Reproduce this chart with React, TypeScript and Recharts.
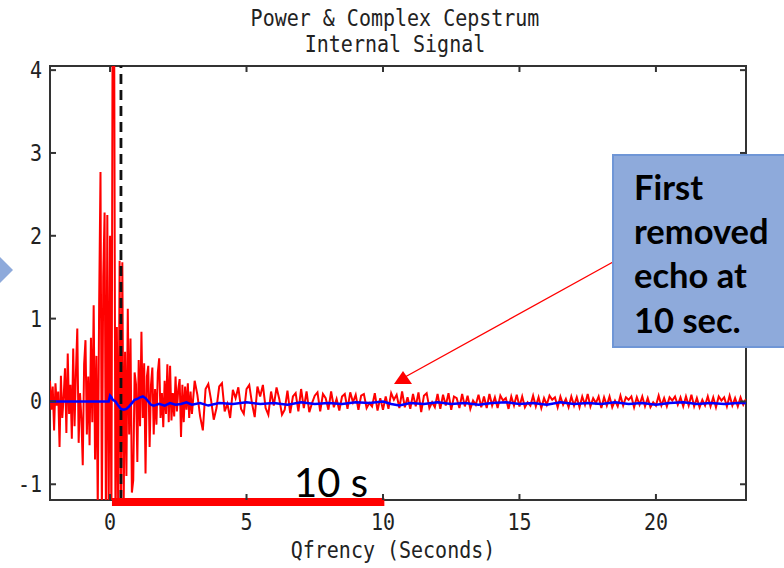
import React from 'react'
import { LineChart, Line, XAxis, YAxis, ReferenceLine, ReferenceArea } from 'recharts'

// red cepstrum, dense part: every 0.05 s from -2.2 s
const RED_EARLY_T0 = -2.2
const RED_EARLY_DT = 0.05
const RED_EARLY = [
  0.25, -0.10, 0.18, -0.35, 0.22, -0.05, 0.12, -0.55, 0.31, -0.20,
  0.05, 0.40, -0.38, 0.58, -0.15, 0.20, -0.45, 0.64, -0.30, 0.35,
  0.88, -0.50, 0.10, -0.20, -0.77, 0.45, 0.74, -0.40, 0.30, -0.53,
  0.77, -0.25, 1.16, -0.70, 0.55, -1.30, 1.16, 2.77, -1.40, 1.50,
  2.28, -1.50, 2.25, -1.35, 2.00, -1.60, 5.50, 4.60, -1.70, 0.90,
  -1.40, 1.70, -1.30, 1.68, -1.25, 0.60, -0.90, 1.12, -0.40, 0.76,
  -1.10, -0.95, 0.35, 0.21, -0.73, 0.50, -0.30, 0.84, -0.20, 0.46,
  -0.87, 0.30, 0.43, -0.55, 0.20, 0.41, -0.40, 0.15, -0.28, 0.35,
  0.52, -0.20, 0.10, -0.31, 0.25, -0.15, 0.45, -0.25, 0.43, -0.23,
  0.10, -0.18, 0.30, -0.12, 0.15, 0.27, -0.43, 0.20, -0.25, 0.18,
  -0.10, 0.22, -0.20, 0.12, -0.15,
]

// red cepstrum, tail: every 0.1 s from 3.1 s
const RED_LATE_T0 = 3.1
const RED_LATE_DT = 0.1
const RED_LATE = [
  0.25, 0.08, -0.18, -0.35, 0.15, 0.21, 0.02, -0.22, -0.08, 0.18,
  0.22, -0.12, -0.03, -0.20, 0.14, 0.04, 0.17, -0.09, -0.15, 0.15,
  0.20, -0.02, -0.19, 0.18, 0.06, 0.20, -0.08, -0.16, 0.12, -0.05,
  0.17, 0.03, -0.16, -0.10, 0.13, -0.14, 0.06, 0.10, -0.12, 0.15,
  -0.08, 0.12, -0.13, -0.02, 0.07, 0.11, -0.12, 0.09, 0.04, -0.10,
  0.12, -0.07, 0.03, -0.11, 0.06, 0.09, -0.09, 0.11, -0.01, 0.08,
  -0.10, 0.07, 0.09, -0.08, -0.02, -0.06, 0.10, -0.11, 0.04, -0.10,
  0.06, -0.09, 0.10, 0.02, 0.08, -0.08, 0.12, -0.07, 0.05, -0.09,
  0.09, -0.06, 0.11, -0.13, 0.07, 0.10, -0.08, -0.01, -0.07, 0.09,
  -0.09, 0.08, -0.05, 0.10, -0.10, 0.06, 0.04, -0.08, 0.09, -0.06,
  0.07, -0.09, 0.01, -0.04, 0.08, -0.07, 0.06, -0.08, 0.09, -0.05,
  0.05, -0.08, 0.07, 0.01, 0.04, -0.09, 0.06, -0.05, 0.08, -0.06,
  0.06, -0.07, -0.01, -0.05, 0.07, -0.06, 0.05, -0.08, 0.04, -0.04,
  0.07, 0.02, 0.05, -0.07, 0.06, -0.04, 0.03, -0.07, 0.06, -0.05,
  0.05, -0.07, 0.06, -0.04, 0.09, -0.06, 0.04, -0.02, 0.06, -0.08,
  0.05, -0.05, 0.06, -0.07, 0.01, -0.06, 0.07, -0.05, 0.05, 0.02,
  0.06, -0.07, 0.05, -0.04, 0.06, -0.06, 0.04, -0.07, -0.01, -0.05,
  0.07, -0.05, 0.04, -0.06, 0.05, 0.01, 0.06, -0.04, 0.05, -0.06,
  0.06, -0.05, 0.08, -0.06, 0.04, -0.07, 0.02, -0.05, 0.06, -0.06,
  0.05, -0.07, 0.06, 0.01, 0.05, -0.06, 0.07, -0.05, 0.04, -0.06,
  0.05, -0.04, 0.03,
]

// blue (complex cepstrum) – smoother, own sample times
const BLUE_T = [
  -2.2, -0.05, 0.0, 0.05, 0.1, 0.2, 0.3, 0.4, 0.5, 0.6, 0.7, 0.8, 0.9, 1.0,
  1.1, 1.2, 1.3, 1.4, 1.5, 1.6, 1.8, 2.0, 2.2, 2.4, 2.6, 2.8, 3.0, 3.3, 3.6,
  4.0, 4.5, 5.0, 5.5, 6.0, 6.5, 7.0, 7.5, 8.0, 8.5, 9.0, 9.5, 10.0, 10.3,
  10.6, 11.0, 11.5, 12.0, 12.5, 13.0, 13.5, 14.0, 14.5, 15.0, 15.5, 16.0,
  16.5, 17.0, 17.5, 18.0, 18.5, 19.0, 19.5, 20.0, 20.5, 21.0, 21.5, 22.0,
  22.5, 23.0, 23.3,
]
const BLUE_V = [
  0, 0, 0.07, 0.05, 0.02, 0.0, -0.05, -0.09, -0.1, -0.09, -0.06, -0.02, 0.02, 0.03,
  0.05, 0.06, 0.04, 0.0, -0.04, -0.05, -0.03, -0.05, -0.02, -0.04, -0.03, -0.01, -0.04, -0.02, -0.05,
  -0.02, -0.03, -0.01, -0.03, -0.02, -0.04, -0.01, -0.03, -0.02, -0.03, -0.01, -0.02, 0.0, -0.03,
  -0.05, -0.02, -0.03, -0.01, -0.03, -0.02, -0.04, -0.02, -0.01, -0.03, -0.02, -0.04,
  -0.01, -0.03, -0.02, -0.03, -0.01, -0.03, -0.02, -0.04, -0.02, -0.01, -0.03, -0.02,
  -0.03, -0.02, -0.02,
]

const X_DOMAIN = [-2.2, 23.3]
const Y_DOMAIN = [-1.19, 4.05]
const X_TICKS = [0, 5, 10, 15, 20]
const Y_TICKS = [-1, 0, 1, 2, 3, 4]
const GATE_X = 0.4
const ECHO_SPAN = [0.07, 10.05]
const ECHO_BAR_Y = -1.215

// plot box in pixels
const L = 50
const R = 746
const T = 66
const B = 500

const MONO = '"DejaVu Sans Mono", monospace'
const INK = '#222'

const round = (v: number) => Math.round(v * 1000) / 1000

const rows: { x: number; red?: number; blue?: number }[] = [
  ...RED_EARLY.map((v, i) => ({ x: round(RED_EARLY_T0 + i * RED_EARLY_DT), red: v })),
  ...RED_LATE.map((v, i) => ({ x: round(RED_LATE_T0 + i * RED_LATE_DT), red: v })),
  ...BLUE_T.map((t, i) => ({ x: t, blue: BLUE_V[i] })),
].sort((a, b) => a.x - b.x)

// tall narrow plot font, like the old bitmap one
function Mono({ x, y, anchor = 'middle', children }: any) {
  return (
    <g transform={`translate(${x},${y}) scale(1,1.12)`}>
      <text x={0} y={0} textAnchor={anchor} fontFamily={MONO} fontSize={20} fill={INK}>
        {children}
      </text>
    </g>
  )
}

function XTick(props: any) {
  const cx = props.payload.coordinate
  return (
    <g>
      <line x1={cx} x2={cx} y1={B} y2={B - 6} stroke="#333" strokeWidth={2} />
      <line x1={cx} x2={cx} y1={T} y2={T + 6} stroke="#333" strokeWidth={2} />
      <Mono x={cx} y={B + 30}>{props.payload.value}</Mono>
    </g>
  )
}

function YTick(props: any) {
  const cy = props.payload.coordinate
  return (
    <g>
      <line x1={L} x2={L + 6} y1={cy} y2={cy} stroke="#333" strokeWidth={2} />
      <line x1={R} x2={R - 6} y1={cy} y2={cy} stroke="#333" strokeWidth={2} />
      <Mono x={42} y={cy + 8} anchor="end">{props.payload.value}</Mono>
    </g>
  )
}

export default function App() {
  return (
    <div style={{ position: 'absolute', left: 0, top: 0, width: 784, height: 568, background: '#fff' }}>
      <LineChart
        width={784}
        height={568}
        data={rows}
        margin={{ top: T, right: 784 - R, bottom: 0, left: 0 }}
      >
        <XAxis
          dataKey="x"
          type="number"
          domain={X_DOMAIN}
          ticks={X_TICKS}
          height={568 - B}
          allowDataOverflow
          axisLine={false}
          tickLine={false}
          tick={<XTick />}
        />
        <YAxis
          type="number"
          domain={Y_DOMAIN}
          ticks={Y_TICKS}
          width={L}
          allowDataOverflow
          axisLine={false}
          tickLine={false}
          tick={<YTick />}
        />
        <Line
          dataKey="red"
          stroke="#ff0000"
          strokeWidth={2}
          dot={false}
          connectNulls
          isAnimationActive={false}
        />
        <ReferenceLine
          x={GATE_X}
          stroke="#111"
          strokeWidth={2.8}
          strokeDasharray="10 6"
        />
        <Line
          dataKey="blue"
          stroke="#0000ff"
          strokeWidth={2.5}
          dot={false}
          connectNulls
          isAnimationActive={false}
        />
        <ReferenceArea
          x1={X_DOMAIN[0]}
          x2={X_DOMAIN[1]}
          y1={Y_DOMAIN[0]}
          y2={Y_DOMAIN[1]}
          fill="none"
          stroke="#333"
          strokeWidth={2}
        />
        <ReferenceLine
          segment={[{ x: ECHO_SPAN[0], y: ECHO_BAR_Y }, { x: ECHO_SPAN[1], y: ECHO_BAR_Y }]}
          stroke="#ff0000"
          strokeWidth={8}
          ifOverflow="visible"
        />
      </LineChart>

      <svg
        width={784}
        height={568}
        style={{ position: 'absolute', left: 0, top: 0, pointerEvents: 'none' }}
      >
        <Mono x={395} y={26}>Power &amp; Complex Cepstrum</Mono>
        <Mono x={395} y={52}>Internal Signal</Mono>
        <Mono x={393} y={558}>Qfrency (Seconds)</Mono>

        <text x={331} y={497} textAnchor="middle" fontFamily="Lato, sans-serif" fontSize={40} fill="#000">
          10 s
        </text>

        <polygon points="0,257 13,270 0,283" fill="#8eaadb" />

        <line x1={613} y1={262} x2={405} y2={377} stroke="#ff0000" strokeWidth={1.3} />
        <polygon points="394,384 412,384 403,371" fill="#ff0000" />

        <rect x={613} y={155} width={180} height={192} fill="#8eaadb" stroke="#6f96d6" strokeWidth={2} />
        <g fontFamily="Lato, sans-serif" fontWeight={700} fontSize={34.5} fill="#000">
          <text x={634} y={200}>First</text>
          <text x={634} y={244}>removed</text>
          <text x={634} y={288}>echo at</text>
          <text x={634} y={333}>10 sec.</text>
        </g>
      </svg>
    </div>
  )
}
